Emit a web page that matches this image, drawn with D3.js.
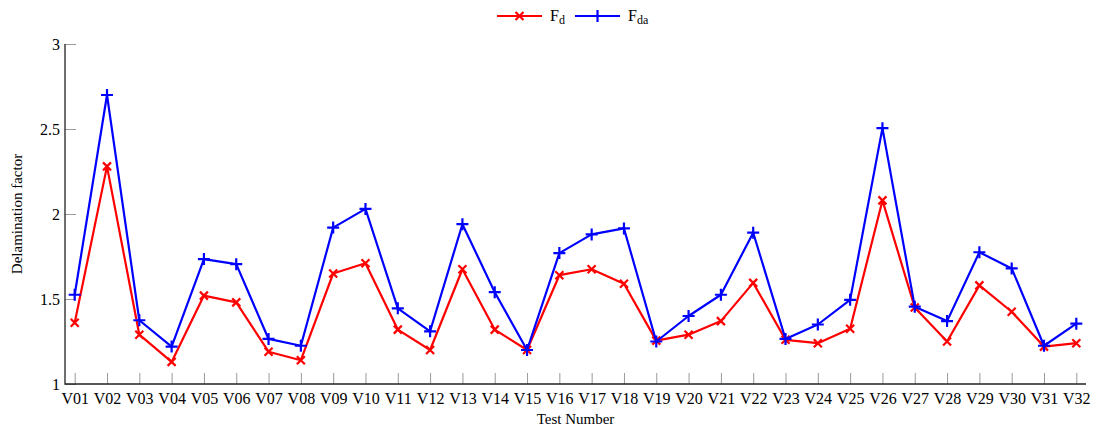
<html>
<head>
<meta charset="utf-8">
<title>Delamination factor</title>
<script src="https://d3js.org/d3.v7.min.js"></script>
<style>
  body { margin: 0; background: #fff; }
  text { font-family: "Liberation Serif", "DejaVu Serif", serif; fill: #000; }
</style>
</head>
<body>
<div id="mychart"></div>
<script>
var tests = ["V01","V02","V03","V04","V05","V06","V07","V08","V09","V10","V11","V12","V13","V14","V15","V16",
             "V17","V18","V19","V20","V21","V22","V23","V24","V25","V26","V27","V28","V29","V30","V31","V32"];
var fd  = [1.36,2.28,1.29,1.13,1.52,1.48,1.19,1.14,1.65,1.71,1.32,1.20,1.675,1.32,1.20,1.64,
           1.675,1.59,1.255,1.29,1.37,1.595,1.26,1.24,1.325,2.08,1.45,1.25,1.58,1.425,1.22,1.24];
var fda = [1.525,2.70,1.375,1.22,1.735,1.705,1.265,1.225,1.92,2.03,1.445,1.31,1.94,1.54,1.20,1.77,
           1.88,1.915,1.25,1.40,1.525,1.89,1.265,1.35,1.495,2.505,1.455,1.37,1.775,1.68,1.225,1.355];
var yTicks = [1, 1.5, 2, 2.5, 3];

var width = 1096, height = 432;
var mLeft = 65, mRight = 1086, mTop = 44, mBottom = 384;

var svg = d3.select("#mychart").append("svg")
    .attr("width", width).attr("height", height);

var x = d3.scaleLinear().domain([0.7, 32.3]).range([mLeft, mRight]);
var y = d3.scaleLinear().domain([1, 3]).range([mBottom, mTop]);

// ticks (inward, grey)
var xAxis = d3.axisBottom(x)
    .tickValues(d3.range(1, tests.length + 1))
    .tickFormat(function(d) { return tests[d - 1]; })
    .tickSize(-11).tickPadding(14);
var gx = svg.append("g").attr("transform", "translate(0," + mBottom + ")").call(xAxis);
gx.select(".domain").remove();
gx.selectAll(".tick line").attr("stroke", "#999").attr("stroke-width", 1);
gx.selectAll(".tick text").attr("font-size", 16).attr("dy", "0.4em");

var yAxis = d3.axisLeft(y).tickValues(yTicks).tickFormat(d3.format("")).tickSize(-11).tickPadding(5);
var gy = svg.append("g").attr("transform", "translate(" + mLeft + ",0)").call(yAxis);
gy.select(".domain").remove();
gy.selectAll(".tick line").attr("stroke", "#999").attr("stroke-width", 1);
gy.selectAll(".tick text").attr("font-size", 16);

// axis lines (left & bottom only)
svg.append("path")
    .attr("d", "M" + mLeft + "," + mTop + "V" + mBottom + "H" + mRight)
    .attr("fill", "none").attr("stroke", "#222").attr("stroke-width", 1.3);

svg.append("text").attr("x", (mLeft + mRight) / 2).attr("y", 424)
    .attr("text-anchor", "middle").attr("font-size", 15).text("Test Number");
svg.append("text").attr("transform", "translate(22," + (mTop + mBottom) / 2 + ") rotate(-90)")
    .attr("text-anchor", "middle").attr("font-size", 15).text("Delamination factor");

var line = d3.line()
    .x(function(d, i) { return x(i + 1); })
    .y(function(d) { return y(d); });

function crossPath(s) { return "M" + (-s) + "," + (-s) + "L" + s + "," + s + "M" + (-s) + "," + s + "L" + s + "," + (-s); }
function plusPath(s) { return "M" + (-s) + ",0H" + s + "M0," + (-s) + "V" + s; }

var series = [
  { name: "d",  vals: fd,  color: "#ff0000", mark: crossPath(4) },
  { name: "da", vals: fda, color: "#0000ff", mark: plusPath(6) }
];

series.forEach(function(s) {
  svg.append("path").datum(s.vals)
    .attr("d", line).attr("fill", "none")
    .attr("stroke", s.color).attr("stroke-width", 2.2).attr("stroke-linejoin", "round");
  svg.selectAll(null).data(s.vals).enter().append("path")
    .attr("transform", function(d, i) { return "translate(" + x(i + 1) + "," + y(d) + ")"; })
    .attr("d", s.mark).attr("fill", "none")
    .attr("stroke", s.color).attr("stroke-width", 2.2);
});

// legend
var legendX = [497, 575];
series.forEach(function(s, i) {
  var g = svg.append("g").attr("transform", "translate(" + legendX[i] + ",16)");
  g.append("line").attr("x1", 0).attr("x2", 45).attr("stroke", s.color).attr("stroke-width", 2.2);
  g.append("path").attr("transform", "translate(22.5,0)").attr("d", s.mark)
    .attr("fill", "none").attr("stroke", s.color).attr("stroke-width", 2.2);
  var t = g.append("text").attr("x", 53).attr("y", 5).attr("font-size", 16);
  t.append("tspan").text("F");
  t.append("tspan").attr("font-size", 12).attr("dy", 3).text(s.name);
});
</script>
</body>
</html>
